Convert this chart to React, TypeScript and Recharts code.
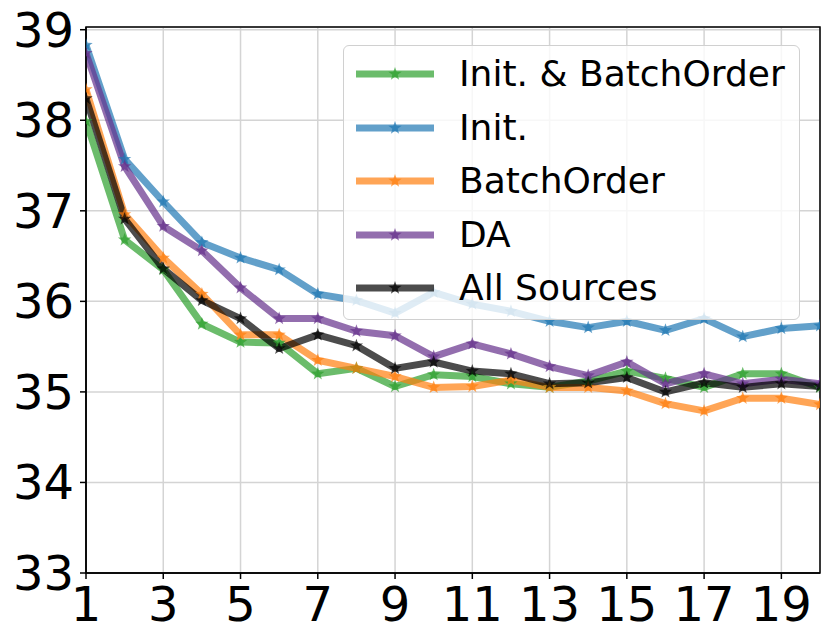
import { LineChart, Line, XAxis, YAxis, CartesianGrid, Legend, ReferenceArea } from "recharts";

const steps = [1, 2, 3, 4, 5, 6, 7, 8, 9, 10, 11, 12, 13, 14, 15, 16, 17, 18, 19, 20];

const initBatchOrder = [37.99, 36.68, 36.35, 35.75, 35.55, 35.54, 35.2, 35.26, 35.06, 35.19, 35.17, 35.09, 35.05, 35.12, 35.23, 35.15, 35.05, 35.2, 35.2, 35.05];
const initOnly = [38.83, 37.57, 37.1, 36.65, 36.48, 36.35, 36.08, 36.01, 35.87, 36.1, 35.97, 35.89, 35.78, 35.71, 35.78, 35.68, 35.81, 35.61, 35.7, 35.73];
const batchOrder = [38.34, 36.96, 36.48, 36.08, 35.63, 35.63, 35.35, 35.26, 35.17, 35.05, 35.06, 35.13, 35.05, 35.05, 35.01, 34.87, 34.79, 34.93, 34.93, 34.86];
const dataAug = [38.74, 37.49, 36.83, 36.56, 36.15, 35.81, 35.81, 35.67, 35.62, 35.39, 35.53, 35.42, 35.28, 35.18, 35.33, 35.09, 35.2, 35.09, 35.14, 35.09];
const allSources = [38.24, 36.91, 36.36, 36.01, 35.81, 35.48, 35.63, 35.51, 35.26, 35.33, 35.23, 35.2, 35.09, 35.1, 35.16, 35.0, 35.1, 35.05, 35.09, 35.06];

const xTicks = [1, 3, 5, 7, 9, 11, 13, 15, 17, 19];
const yTicks = [33, 34, 35, 36, 37, 38, 39];

const series = [
  { key: "initBatch", name: "Init. & BatchOrder", color: "#2ca02c" },
  { key: "init", name: "Init.", color: "#1f77b4" },
  { key: "batch", name: "BatchOrder", color: "#ff7f0e" },
  { key: "da", name: "DA", color: "#65318c" },
  { key: "all", name: "All Sources", color: "#000000" },
];

const data = steps.map((s, i) => ({
  step: s,
  initBatch: initBatchOrder[i],
  init: initOnly[i],
  batch: batchOrder[i],
  da: dataAug[i],
  all: allSources[i],
}));

const FONT = "'DejaVu Sans', sans-serif";

function starPoints(cx: number, cy: number, r: number) {
  const pts: string[] = [];
  for (let i = 0; i < 10; i++) {
    const rad = i % 2 === 0 ? r : r * 0.4;
    const a = -Math.PI / 2 + (i * Math.PI) / 5;
    pts.push(`${cx + rad * Math.cos(a)},${cy + rad * Math.sin(a)}`);
  }
  return pts.join(" ");
}

function makeDot(color: string) {
  return (props: any) => {
    const { cx, cy, index } = props;
    if (cx == null || cy == null) return <g key={`d-${index}`} />;
    return <polygon key={`d-${index}`} points={starPoints(cx, cy, 7)} fill={color} fillOpacity={0.7} />;
  };
}

function renderLegend() {
  return (
    <div
      style={{
        position: "relative",
        width: 457,
        height: 275,
        boxSizing: "border-box",
        border: "1.5px solid #d0d0d0",
        borderRadius: 6,
        background: "rgba(255,255,255,0.8)",
        fontFamily: FONT,
        fontSize: 36,
        color: "#000",
      }}
    >
      {series.map((s, i) => (
        <div
          key={s.key}
          style={{ position: "absolute", left: 0, top: 28 + i * 53.5 - 25, height: 50, width: 457 }}
        >
          <svg width={100} height={50} style={{ position: "absolute", left: 12, top: 0 }}>
            <line x1={0} y1={25} x2={78} y2={25} stroke={s.color} strokeOpacity={0.7} strokeWidth={7} />
            <polygon points={starPoints(39, 25, 7)} fill={s.color} fillOpacity={0.7} />
          </svg>
          <span style={{ position: "absolute", left: 115, top: 0, lineHeight: "50px", whiteSpace: "nowrap" }}>
            {s.name}
          </span>
        </div>
      ))}
    </div>
  );
}

export default function App() {
  return (
    <div style={{ position: "absolute", left: 0, top: 0, width: 830, height: 644, background: "#fff" }}>
      <LineChart width={830} height={644} data={data} margin={{ top: 27, right: 10, bottom: 0, left: 0 }}>
        <CartesianGrid stroke="#d4d4d4" strokeWidth={1.5} />
        <XAxis
          dataKey="step"
          type="number"
          domain={[1, 20]}
          ticks={xTicks}
          allowDataOverflow
          height={71}
          axisLine={{ stroke: "#000", strokeWidth: 1.5 }}
          tickLine={{ stroke: "#000", strokeWidth: 1.5 }}
          tickSize={6}
          tickMargin={8}
          tick={{ fill: "#000", fontSize: 48, fontFamily: FONT }}
          interval={0}
        />
        <YAxis
          type="number"
          domain={[33, 39.03]}
          ticks={yTicks}
          allowDataOverflow
          width={86}
          axisLine={{ stroke: "#000", strokeWidth: 1.5 }}
          tickLine={{ stroke: "#000", strokeWidth: 1.5 }}
          tickSize={6}
          tickMargin={6}
          tick={{ fill: "#000", fontSize: 48, fontFamily: FONT }}
          interval={0}
        />
        {series.map((s) => (
          <Line
            key={s.key}
            dataKey={s.key}
            name={s.name}
            type="linear"
            stroke={s.color}
            strokeOpacity={0.7}
            strokeWidth={7}
            strokeLinejoin="round"
            dot={makeDot(s.color)}
            activeDot={false}
            isAnimationActive={false}
          />
        ))}
        <ReferenceArea x1={1} x2={20} y1={33} y2={39.03} fill="none" stroke="#000" strokeWidth={1.5} ifOverflow="visible" />
        <Legend
          content={renderLegend}
          layout="horizontal"
          verticalAlign="middle"
          align="center"
          wrapperStyle={{ position: "absolute", left: 343, top: 45, width: 457, height: 275 }}
        />
      </LineChart>
    </div>
  );
}
